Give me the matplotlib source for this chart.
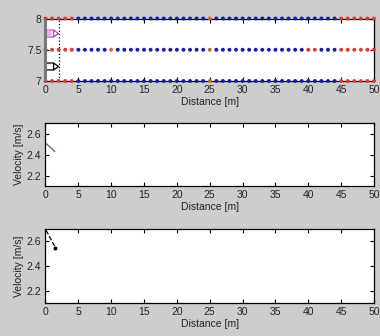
import numpy as np
import matplotlib
matplotlib.use("Agg")
import matplotlib.pyplot as plt
from matplotlib.path import Path

plt.rcParams['font.family'] = ['Liberation Sans Narrow', 'Liberation Sans', 'DejaVu Sans']

# Lane grid: sample positions along the road and the three lane centre lines
grid_x = np.arange(0, 51, 1)
lane_y = [8.0, 7.5, 7.0]
# cells that are marked red on each lane (everything else is blue)
red_cells = {
    8.0: [0, 1, 2, 3, 4, 45, 46, 47, 48, 49, 50],
    7.5: [0, 1, 2, 3, 4, 40, 41, 45, 46, 47, 48, 49, 50],
    7.0: [0, 1, 2, 3, 4, 45, 46, 47, 48, 49, 50],
}
orange_cells = {8.0: [25], 7.5: [10, 25], 7.0: [25]}

# Vehicles
car_x = [0.9, 0.9]
car_y = [7.77, 7.24]
car_colors = ['#c040c0', 'black']
stop_line_x = 2.0

# Velocity profiles
v1_x = [0.0, 1.4]
v1_y = [2.51, 2.43]
v2_x = [0.1, 1.5]
v2_y = [2.69, 2.55]

x_ticks = [0, 5, 10, 15, 20, 25, 30, 35, 40, 45, 50]
v_ticks = [2.2, 2.4, 2.6]

BG = '#cdcdcd'
fig = plt.figure(figsize=(3.8, 3.36), dpi=100, facecolor=BG)

left, width = 0.1197, 0.8645
ax1 = fig.add_axes([left, 0.7589, width, 0.186])
ax2 = fig.add_axes([left, 0.4464, width, 0.1875])
ax3 = fig.add_axes([left, 0.0982, width, 0.220])

def style(ax):
    ax.set_xlim(0, 50)
    ax.set_xticks(x_ticks)
    ax.tick_params(direction='in', length=3, width=0.8, labelsize=7.5,
                   top=True, right=True, pad=3, colors='black',
                   labelcolor='#222222')
    for s in ax.spines.values():
        s.set_linewidth(0.9)
        s.set_color('black')
    ax.set_xlabel('Distance [m]', fontsize=7.5, labelpad=1, color='#222222')

# Lane map
for y in lane_y:
    reds = set(red_cells[y])
    oranges = set(orange_cells[y])
    cols = ['#d83a3a' if x in reds else ('#c07020' if x in oranges else '#1c1ca0')
            for x in grid_x]
    ax1.scatter(grid_x, np.full(len(grid_x), y), s=8, c=cols, zorder=3,
                clip_on=False, linewidths=0)
ax1.axvline(stop_line_x, color='black', linestyle=':', linewidth=0.9)
ax1.plot([0, 0], [7, 8], color='#777777', linewidth=2.2, solid_capstyle='butt',
         zorder=4, clip_on=False)

car_shape = Path([(-1.0, -0.5), (0.3, -0.5), (0.3, 0.5), (-1.0, 0.5), (-1.0, -0.5),
                  (0.3, -0.5), (1.0, 0.0), (0.3, 0.5)],
                 [Path.MOVETO, Path.LINETO, Path.LINETO, Path.LINETO, Path.LINETO,
                  Path.MOVETO, Path.LINETO, Path.LINETO])
for cx, cy, cc in zip(car_x, car_y, car_colors):
    ax1.plot([cx], [cy], marker=car_shape, markersize=10, markerfacecolor='none',
             markeredgecolor=cc, markeredgewidth=0.9, linestyle='none')
ax1.plot([car_x[0] - 0.6], [car_y[0]], marker='o', markersize=5,
         color='#e8a0e8', alpha=0.8, linestyle='none')

ax1.set_ylim(7, 8)
ax1.set_yticks([7, 7.5, 8])
ax1.set_yticklabels(['7', '7.5', '8'])
style(ax1)

# Velocity profiles
ax2.plot(v1_x, v1_y, color='#705070', linewidth=0.9)
ax3.plot(v2_x, v2_y, color='black', linewidth=0.9, linestyle='--')
ax3.plot([v2_x[-1]], [v2_y[-1]], 'o', color='black', markersize=1.8)

for ax in (ax2, ax3):
    ax.set_ylim(2.1, 2.7)
    ax.set_yticks(v_ticks)
    ax.set_yticklabels(['2.2', '2.4', '2.6'])
    ax.set_ylabel('Velocity [m/s]', fontsize=7.5, labelpad=2, color='#222222')
    style(ax)

fig.savefig('out.png', dpi=100, facecolor=BG)
